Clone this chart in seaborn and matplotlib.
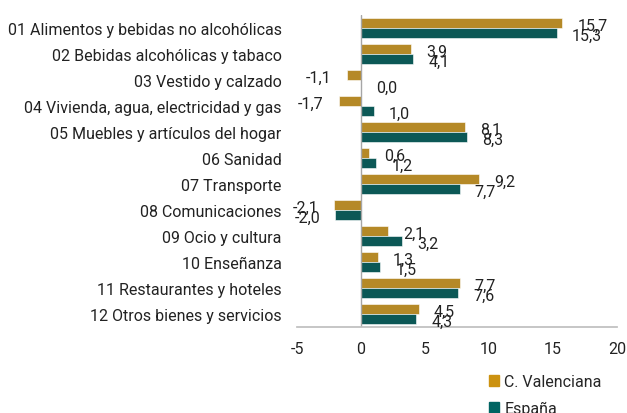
import matplotlib

matplotlib.use("Agg")

import matplotlib.pyplot as plt
import pandas as pd
import seaborn as sns

categories = [
    "01 Alimentos y bebidas no alcohólicas",
    "02 Bebidas alcohólicas y tabaco",
    "03 Vestido y calzado",
    "04 Vivienda, agua, electricidad y gas",
    "05 Muebles y artículos del hogar",
    "06 Sanidad",
    "07 Transporte",
    "08 Comunicaciones",
    "09 Ocio y cultura",
    "10 Enseñanza",
    "11 Restaurantes y hoteles",
    "12 Otros bienes y servicios",
]
valenciana = [15.7, 3.9, -1.1, -1.7, 8.1, 0.6, 9.2, -2.1, 2.1, 1.3, 7.7, 4.5]
espana = [15.3, 4.1, 0.0, 1.0, 8.3, 1.2, 7.7, -2.0, 3.2, 1.5, 7.6, 4.3]
series = ["C. Valenciana", "España"]
colors = ["#CC9210", "#006462"]

df = pd.DataFrame({
    "cat": categories * 2,
    "value": valenciana + espana,
    "serie": [series[0]] * len(categories) + [series[1]] * len(categories),
})

sns.set_theme(style="white")
plt.rcParams["font.family"] = ["Roboto", "DejaVu Sans"]
plt.rcParams["axes.unicode_minus"] = False

FS = 11.5

fig = plt.figure(figsize=(6.27, 4.14), dpi=100)
ax = fig.add_axes([0.4737, 0.2077, 0.5104, 0.7537])

sns.barplot(data=df, x="value", y="cat", hue="serie", orient="h",
            palette=colors, order=categories, hue_order=series,
            edgecolor="white", linewidth=0.4, width=0.8, ax=ax, legend=False)

ax.set_xlim(-5, 20)
ax.set_ylim(len(categories) - 0.5, -0.5)
ax.set_xticks([-5, 0, 5, 10, 15, 20])
ax.set_xlabel("")
ax.set_ylabel("")
ax.tick_params(axis="both", length=0, labelsize=FS, colors="#222222")
ax.tick_params(axis="x", pad=10)
ax.tick_params(axis="y", pad=11)
for side in ["top", "right", "left"]:
    ax.spines[side].set_visible(False)
ax.spines["bottom"].set_color("#BFBFBF")
ax.axvline(0, color="#A6A6A6", linewidth=1)

# value labels next to bar ends, comma as decimal separator
for j, vals in enumerate([valenciana, espana]):
    dy = -0.12 if j == 0 else 0.27
    for i, v in enumerate(vals):
        ax.annotate(f"{v:.1f}".replace(".", ","), xy=(v, i + dy),
                    xytext=(11 if v >= 0 else -11, 0), textcoords="offset points",
                    ha="left" if v >= 0 else "right", va="center",
                    fontsize=FS, color="#222222")

handles = [plt.Rectangle((0, 0), 1, 1, color=c) for c in colors]
fig.legend(handles, series, loc="upper left", bbox_to_anchor=(489 / 627, 1 - 375 / 414),
           frameon=False, handlelength=0.65, handleheight=0.65, handletextpad=0.3,
           labelspacing=0.75, borderaxespad=0, borderpad=0, fontsize=FS)

fig.savefig("out.png", dpi=100)
